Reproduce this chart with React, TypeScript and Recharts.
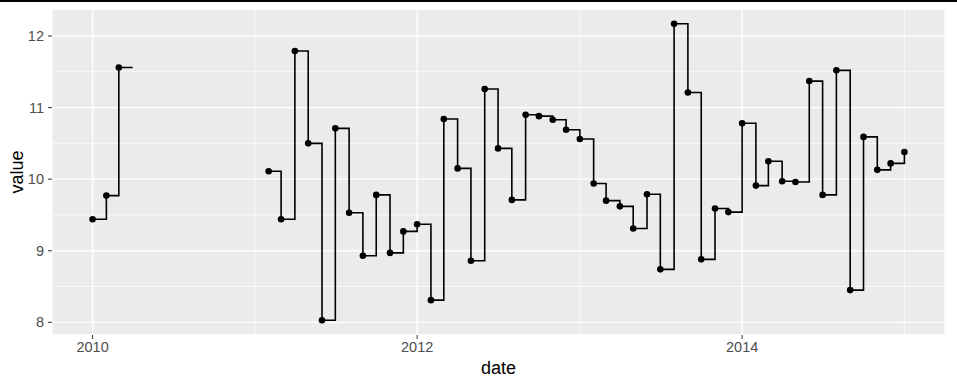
import {
  CartesianGrid,
  ComposedChart,
  Line,
  ReferenceLine,
  XAxis,
  YAxis,
} from "recharts";

// monthly series, null = missing month
const months: string[] = [
  "2010-01", "2010-02", "2010-03", "2010-04", "2010-05", "2010-06", "2010-07", "2010-08", "2010-09", "2010-10", "2010-11", "2010-12",
  "2011-01", "2011-02", "2011-03", "2011-04", "2011-05", "2011-06", "2011-07", "2011-08", "2011-09", "2011-10", "2011-11", "2011-12",
  "2012-01", "2012-02", "2012-03", "2012-04", "2012-05", "2012-06", "2012-07", "2012-08", "2012-09", "2012-10", "2012-11", "2012-12",
  "2013-01", "2013-02", "2013-03", "2013-04", "2013-05", "2013-06", "2013-07", "2013-08", "2013-09", "2013-10", "2013-11", "2013-12",
  "2014-01", "2014-02", "2014-03", "2014-04", "2014-05", "2014-06", "2014-07", "2014-08", "2014-09", "2014-10", "2014-11", "2014-12",
  "2015-01",
];

const values: (number | null)[] = [
  9.44, 9.77, 11.56, null, null, null, null, null, null, null, null, null,
  null, 10.11, 9.44, 11.79, 10.5, 8.03, 10.71, 9.53, 8.93, 9.78, 8.97, 9.27,
  9.37, 8.31, 10.84, 10.15, 8.86, 11.26, 10.43, 9.71, 10.9, 10.88, 10.83, 10.69,
  10.56, 9.94, 9.7, 9.62, 9.31, 9.79, 8.74, 12.17, 11.21, 8.88, 9.59, 9.54,
  10.78, 9.91, 10.25, 9.97, 9.96, 11.37, 9.78, 11.52, 8.45, 10.59, 10.13, 10.22,
  10.38,
];

const xTickYears = [2010, 2012, 2014];
const xMinorYears = [2011, 2013, 2015];
const yTicks = [8, 9, 10, 11, 12];
const yMinor = [8.5, 9.5, 10.5, 11.5];

const toTime = (ym: string) => {
  const [y, m] = ym.split("-").map(Number);
  return Date.UTC(y, m - 1, 1);
};
const yearTime = (y: number) => Date.UTC(y, 0, 1);

// geom_step keeps the last horizontal run up to the next (missing) x
const data = months.map((m, i) => {
  const v = values[i];
  const prev = i > 0 ? values[i - 1] : null;
  return { t: toTime(m), value: v, step: v ?? prev };
});

const tMin = data[0].t;
const tMax = data[data.length - 1].t;
const xPad = (tMax - tMin) * 0.05;
const nums = values.filter((v): v is number => v !== null);
const vMin = Math.min(...nums);
const vMax = Math.max(...nums);
const yPad = (vMax - vMin) * 0.05;

const FONT = "'Liberation Sans', Arial, sans-serif";

export default function App() {
  return (
    <div
      style={{
        position: "absolute",
        left: 0,
        top: 0,
        width: 957,
        height: 387,
        background: "#fff",
        borderTop: "2px solid #000",
        boxSizing: "border-box",
        fontFamily: FONT,
      }}
    >
      <div style={{ position: "absolute", left: 0, top: -2 }}>
        <ComposedChart
          width={957}
          height={387}
          data={data}
          margin={{ top: 9, right: 12, left: 0, bottom: 0 }}
        >
          <CartesianGrid
            fill="#EBEBEB"
            stroke="#FFFFFF"
            strokeWidth={1.3}
            strokeDasharray=""
          />
          {yMinor.map((v) => (
            <ReferenceLine key={`ym${v}`} y={v} stroke="#FFFFFF" strokeWidth={0.7} />
          ))}
          {xMinorYears.map((y) => (
            <ReferenceLine key={`xm${y}`} x={yearTime(y)} stroke="#FFFFFF" strokeWidth={0.7} />
          ))}
          <XAxis
            dataKey="t"
            type="number"
            scale="time"
            domain={[tMin - xPad, tMax + xPad]}
            ticks={xTickYears.map(yearTime)}
            tickFormatter={(t: number) => String(new Date(t).getUTCFullYear())}
            axisLine={false}
            tickLine={{ stroke: "#333333" }}
            tickSize={4}
            tickMargin={3}
            tick={{ fill: "#4D4D4D", fontSize: 14.5, fontFamily: FONT }}
            height={52}
            allowDataOverflow
            label={{
              value: "date",
              position: "insideBottom",
              offset: 13,
              fill: "#000",
              fontSize: 18,
              fontFamily: FONT,
            }}
          />
          <YAxis
            type="number"
            domain={[vMin - yPad, vMax + yPad]}
            ticks={yTicks}
            axisLine={false}
            tickLine={{ stroke: "#333333" }}
            tickSize={4}
            tickMargin={4}
            tick={{ fill: "#4D4D4D", fontSize: 14.5, fontFamily: FONT }}
            width={52}
            allowDataOverflow
            label={{
              value: "value",
              angle: -90,
              position: "insideLeft",
              offset: 17,
              fill: "#000",
              fontSize: 18,
              fontFamily: FONT,
              style: { textAnchor: "middle" },
            }}
          />
          <Line
            dataKey="step"
            type="stepAfter"
            stroke="#000"
            strokeWidth={1.6}
            dot={false}
            activeDot={false}
            isAnimationActive={false}
          />
          <Line
            dataKey="value"
            stroke="none"
            dot={{ r: 3.3, fill: "#000", stroke: "none" }}
            activeDot={false}
            isAnimationActive={false}
          />
        </ComposedChart>
      </div>
    </div>
  );
}
